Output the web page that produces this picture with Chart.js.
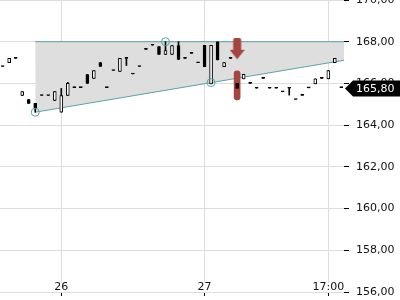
<!DOCTYPE html>
<html>
<head>
<meta charset="utf-8">
<script src="https://cdn.jsdelivr.net/npm/chart.js@4/dist/chart.umd.min.js"></script>
<style>
  html, body { margin: 0; padding: 0; background: #fff; }
</style>
</head>
<body>
<canvas id="chart" width="400" height="300"></canvas>
<script>
// candle data (index = bar number)
const opens = [166.81, 167.00, 167.20, 165.42, 165.23, 165.04, 165.42, 165.42, 165.18, 164.62,
               165.42, 165.80, 165.80, 166.43, 166.24, 167.00, 165.80, 166.62, 166.57, 167.20,
               166.45, 166.81, 167.63, 167.83, 167.77, 167.39, 167.39, 167.82, 167.20, 167.44,
               166.99, 167.83, 165.98, 168.00, 166.80, 167.20, 166.00, 166.22, 166.00, 165.77,
               166.24, 165.77, 165.77, 165.60, 165.77, 165.23, 165.43, 165.79, 165.98, 166.24,
               166.22, 167.00, 165.80];
const closes = [166.81, 167.20, 167.20, 165.61, 165.04, 164.80, 165.42, 165.42, 165.61, 165.42,
                166.00, 165.80, 165.80, 166.00, 166.62, 166.81, 165.80, 166.62, 167.20, 167.20,
                166.45, 166.81, 167.63, 167.83, 167.39, 167.58, 167.82, 167.15, 167.20, 167.44,
                166.99, 166.80, 167.83, 167.13, 167.00, 167.20, 165.76, 166.44, 166.00, 165.77,
                166.24, 165.77, 165.77, 165.60, 165.77, 165.23, 165.43, 165.79, 166.22, 166.24,
                166.62, 167.20, 165.80];
const highs = [166.81, 167.20, 167.20, 165.61, 165.23, 165.04, 165.42, 165.42, 165.61, 165.76,
               166.05, 165.80, 165.80, 166.43, 166.62, 167.00, 165.80, 166.62, 167.20, 167.20,
               166.45, 166.81, 167.63, 167.83, 167.77, 168.00, 167.82, 168.00, 167.20, 167.44,
               166.99, 167.83, 167.83, 168.00, 167.00, 167.20, 166.00, 166.44, 166.00, 165.77,
               166.24, 165.77, 165.77, 165.60, 165.77, 165.23, 165.43, 165.79, 166.22, 166.24,
               166.62, 167.20, 165.80];
const lows = [166.81, 167.00, 167.20, 165.42, 165.04, 164.62, 165.42, 165.42, 165.18, 164.62,
              165.42, 165.80, 165.80, 166.00, 166.24, 166.81, 165.80, 166.62, 166.57, 166.86,
              166.45, 166.81, 167.63, 167.83, 167.39, 167.39, 167.39, 167.15, 167.20, 167.44,
              166.99, 166.80, 165.98, 167.13, 166.80, 167.20, 165.76, 166.22, 166.00, 165.77,
              166.24, 165.77, 165.77, 165.60, 165.44, 165.23, 165.43, 165.79, 165.98, 166.24,
              166.22, 167.00, 165.80];

// x axis labels
const tickIdx = [9, 31, 50];
const tickLabels = ['26', '27', '17:00'];
const xMin = -0.41;
const xMax = 52.41;

// wedge pattern
const wedgeX = [5, xMax];
const resistance = [168.00, 168.00];
const support = [164.62, 167.11];
const touchX = [5, 25, 32];
const touchY = [164.62, 168.00, 166.04];

// sell signal
const signalIdx = 36;
const signalRange = [165.21, 166.60];
const arrowPrice = 167.66;

const teal = '#5ba3a8';
const red = '#a4463f';
const gridColor = '#dddddd';
const font = { family: 'DejaVu Sans', size: 11 };

// arrow marker as a point image
const arrowImg = document.createElement('canvas');
arrowImg.width = 15;
arrowImg.height = 22;
const a = arrowImg.getContext('2d');
a.fillStyle = red;
a.beginPath();
a.roundRect(3.5, 0, 8, 14, 2);
a.fill();
a.beginPath();
a.moveTo(0, 12);
a.lineTo(15, 12);
a.lineTo(7.5, 21.5);
a.closePath();
a.fill();

const bodies = opens.map((o, i) => ({ x: i, y: [o, closes[i]] }));
const bodyColors = opens.map((o, i) => closes[i] > o ? '#ffffff' : '#000000');
const wicks = highs.map((h, i) => ({ x: i, y: [lows[i], h] }));

const lastPriceTag = {
    id: 'lastPriceTag',
    afterDraw(chart) {
        const ys = chart.scales.y;
        const ctx = chart.ctx;
        const last = closes[closes.length - 1];
        const y = Math.round(ys.getPixelForValue(last)) + 0.5;
        const x0 = ys.left + 1;
        ctx.save();
        ctx.fillStyle = '#000';
        ctx.beginPath();
        ctx.moveTo(x0, y);
        ctx.lineTo(x0 + 8, y - 8);
        ctx.lineTo(chart.width, y - 8);
        ctx.lineTo(chart.width, y + 8);
        ctx.lineTo(x0 + 8, y + 8);
        ctx.closePath();
        ctx.fill();
        ctx.fillStyle = '#fff';
        ctx.font = '11px "DejaVu Sans"';
        ctx.textBaseline = 'middle';
        ctx.fillText(last.toFixed(2).replace('.', ','), ys.left + 12, y + 0.5);
        ctx.restore();
    }
};

new Chart(document.getElementById('chart').getContext('2d'), {
    type: 'bar',
    data: {
        datasets: [{
            type: 'scatter',
            data: touchX.map((x, i) => ({ x: x, y: touchY[i] })),
            pointRadius: 4,
            pointBorderWidth: 1,
            pointBorderColor: teal,
            pointBackgroundColor: 'rgba(0,0,0,0)'
        }, {
            type: 'scatter',
            data: [{ x: signalIdx, y: arrowPrice }],
            pointStyle: arrowImg,
            pointRadius: 5
        }, {
            data: bodies,
            backgroundColor: bodyColors,
            borderColor: '#000',
            borderWidth: 1,
            borderSkipped: false,
            barThickness: 3,
            minBarLength: 1,
            grouped: false
        }, {
            data: [{ x: signalIdx, y: signalRange }],
            backgroundColor: red,
            borderRadius: 3,
            borderSkipped: false,
            barThickness: 6,
            grouped: false
        }, {
            data: wicks,
            backgroundColor: '#000',
            barThickness: 1,
            grouped: false
        }, {
            type: 'line',
            data: wedgeX.map((x, i) => ({ x: x, y: resistance[i] })),
            borderColor: teal,
            borderWidth: 1,
            pointRadius: 0,
            fill: '+1',
            backgroundColor: '#dedede'
        }, {
            type: 'line',
            data: wedgeX.map((x, i) => ({ x: x, y: support[i] })),
            borderColor: teal,
            borderWidth: 1,
            pointRadius: 0,
            fill: false
        }]
    },
    options: {
        responsive: false,
        animation: false,
        events: [],
        layout: { padding: 0, autoPadding: false },
        plugins: {
            legend: { display: false },
            tooltip: { enabled: false },
            filler: { drawTime: 'beforeDatasetsDraw' }
        },
        scales: {
            x: {
                type: 'linear',
                position: 'bottom',
                min: xMin,
                max: xMax,
                offset: false,
                grid: { color: gridColor, tickColor: '#000', tickLength: 4, offset: false },
                border: { display: false },
                afterBuildTicks: (scale) => {
                    scale.ticks = tickIdx.map(v => ({ value: v }));
                },
                ticks: {
                    autoSkip: false,
                    maxRotation: 0,
                    mirror: true,
                    padding: -2,
                    font: font,
                    color: '#111',
                    showLabelBackdrop: true,
                    backdropColor: '#fff',
                    backdropPadding: { top: -2, bottom: -2, left: 1, right: 1 },
                    callback: (v, i) => tickLabels[i]
                },
                afterFit: (scale) => {
                    scale.height = 8;
                    scale.paddingLeft = 0;
                    scale.paddingRight = 0;
                }
            },
            y: {
                position: 'right',
                min: 156,
                max: 170,
                beginAtZero: false,
                grid: { color: gridColor, tickColor: '#000', tickLength: 5 },
                border: { display: false },
                ticks: {
                    stepSize: 2,
                    padding: 7,
                    font: font,
                    color: '#111',
                    callback: (v) => v.toFixed(2).replace('.', ',')
                },
                afterFit: (scale) => {
                    scale.width = 56;
                    scale.paddingTop = 0;
                    scale.paddingBottom = 0;
                }
            }
        }
    },
    plugins: [lastPriceTag]
});
</script>
</body>
</html>
